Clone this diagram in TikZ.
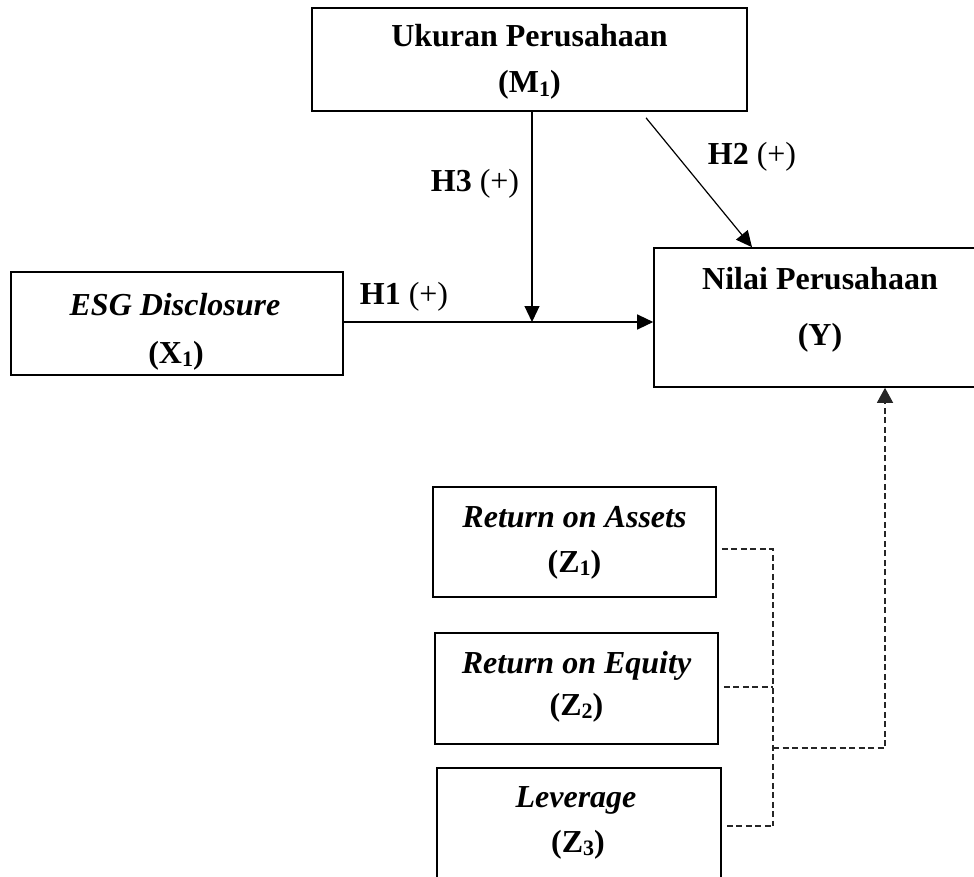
\documentclass[tikz,border=0pt]{standalone}
\usepackage{fontspec}
\setmainfont{Liberation Serif}
\usetikzlibrary{arrows.meta,calc}
\newcommand\lowsub[1]{\raisebox{-0.1em}{\fontsize{22}{22}\selectfont #1}}
\begin{document}
\begin{tikzpicture}[x=1pt,y=-1pt,
  boxv/.style={draw=black,line width=1.6pt,rectangle,inner sep=0pt},
  txt/.style={anchor=base,inner sep=0pt,font=\fontsize{32}{38}\selectfont\bfseries},
  hlab/.style={anchor=base,inner sep=0pt,font=\fontsize{32}{38}\selectfont},
  conn/.style={line width=1.2pt,-{Triangle[length=16pt,width=15pt]}},
  dashln/.style={line width=1.2pt,draw=black!85,dash pattern=on 6pt off 3.5pt}]
\useasboundingbox (0,0) rectangle (974,877);
% boxes
\node[boxv,minimum width=435pt,minimum height=103pt] (m1) at (529.5,59.5) {};
\node[boxv,minimum width=332pt,minimum height=103pt] (x1) at (177,323.5) {};
\node[boxv,minimum width=332pt,minimum height=139pt] (y) at (820,317.5) {};
\node[boxv,minimum width=283pt,minimum height=110pt] (z1) at (574.5,542) {};
\node[boxv,minimum width=283pt,minimum height=111pt] (z2) at (576.5,688.5) {};
\node[boxv,minimum width=284pt,minimum height=116pt] (z3) at (579,826) {};
% texts
\node[txt] (m1a) at (529.5,47) {Ukuran Perusahaan};
\node[txt] (m1b) at (529.5,93) {(M\lowsub{1})};
\node[txt] (x1a) at (175,315) {\itshape ESG Disclosure};
\node[txt] (x1b) at (176,363) {(X\lowsub{1})};
\node[txt] (ya) at (820,290) {Nilai Perusahaan};
\node[txt] (yb) at (820,345) {(Y)};
\node[txt] (z1a) at (574.5,527) {\itshape Return on Assets};
\node[txt] (z1b) at (574.5,572) {(Z\lowsub{1})};
\node[txt] (z2a) at (576.5,673) {\itshape Return on Equity};
\node[txt] (z2b) at (576.5,715) {(Z\lowsub{2})};
\node[txt] (z3a) at (576,807) {\itshape Leverage};
\node[txt] (z3b) at (578,852) {(Z\lowsub{3})};
% hypothesis labels
\node[hlab] (h1) at (404,305) {\textbf{H1} (+)};
\node[hlab] (h2) at (752,165) {\textbf{H2} (+)};
\node[hlab] (h3) at (475,192) {\textbf{H3} (+)};
% connectors
\coordinate (mod) at (532,322);
\draw[conn] (x1.east |- mod) -- (y.west |- mod);
\draw[conn] (m1.south -| mod) -- (mod);
\draw[conn] ([xshift=116.5pt,yshift=-6pt]m1.south) -- ([xshift=-68pt]y.north);
% dashed controls
\coordinate (b1) at (773,549);
\coordinate (b2) at (773,687);
\coordinate (b3) at (773,826);
\coordinate (bj) at (773,748);
\coordinate (bc) at (885,748);
\draw[dashln,shorten <=5pt] (z1.east |- b1) -- (b1) -- (b3);
\draw[dashln,shorten <=5pt] (z2.east |- b2) -- (b2);
\draw[dashln,shorten <=5pt] (z3.east |- b3) -- (b3);
\draw[dashln,-{Triangle[length=15pt,width=16pt]}] (bj) -- (bc) -- (y.south -| bc);
\end{tikzpicture}
\end{document}
